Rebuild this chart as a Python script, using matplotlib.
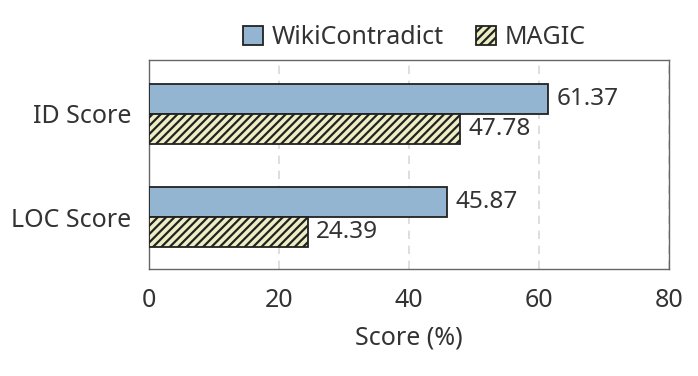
import numpy as np
import matplotlib.pyplot as plt

# data
categories = ["ID Score", "LOC Score"]
series_names = ["WikiContradict", "MAGIC"]
wiki_scores = [61.37, 45.87]
magic_scores = [47.78, 24.39]
x_ticks = [0, 20, 40, 60, 80]

plt.rcParams["font.family"] = ["Noto Sans", "DejaVu Sans"]
plt.rcParams["hatch.linewidth"] = 1.6
text_color = "#333333"
fs = 18

fig = plt.figure(figsize=(6.98, 3.76), dpi=100)
ax = fig.add_axes([0.2135, 0.2846, 0.745, 0.5558])

y = np.arange(len(categories))
h = 0.29

bars1 = ax.barh(y - h / 2, wiki_scores, height=h, color="#93b5d1",
                edgecolor="#222222", linewidth=1.3, label=series_names[0], zorder=3)
bars2 = ax.barh(y + h / 2, magic_scores, height=h, color="#eeeec4",
                edgecolor="#222222", linewidth=1.3, hatch="////",
                label=series_names[1], zorder=3)

# value labels next to each bar
for bars in (bars1, bars2):
    for b in bars:
        ax.text(b.get_width() + 1.3, b.get_y() + b.get_height() / 2,
                f"{b.get_width():.2f}", va="center", ha="left",
                fontsize=fs - 0.5, color=text_color)

ax.set_xlim(0, 80)
ax.set_ylim(1.5, -0.52)
ax.set_xticks(x_ticks)
ax.set_yticks(y)
ax.set_yticklabels(categories)
ax.tick_params(axis="both", length=0, labelsize=fs, colors=text_color)
ax.tick_params(axis="x", pad=14)
ax.tick_params(axis="y", pad=13)
ax.set_xlabel("Score (%)", fontsize=fs, color=text_color, labelpad=9)

ax.grid(axis="x", linestyle=(0, (5, 4)), color="#d8d8d8", linewidth=1.2, zorder=0)
for s in ax.spines.values():
    s.set_color("#666666")
    s.set_linewidth(1.0)

leg = ax.legend(loc="lower center", bbox_to_anchor=(0.51, 1.0), ncol=2,
                frameon=False, fontsize=fs, handlelength=0.8, handleheight=0.8,
                handletextpad=0.35, columnspacing=1.3, borderaxespad=0.0)
for t in leg.get_texts():
    t.set_color(text_color)

fig.savefig("out.png", dpi=100)
